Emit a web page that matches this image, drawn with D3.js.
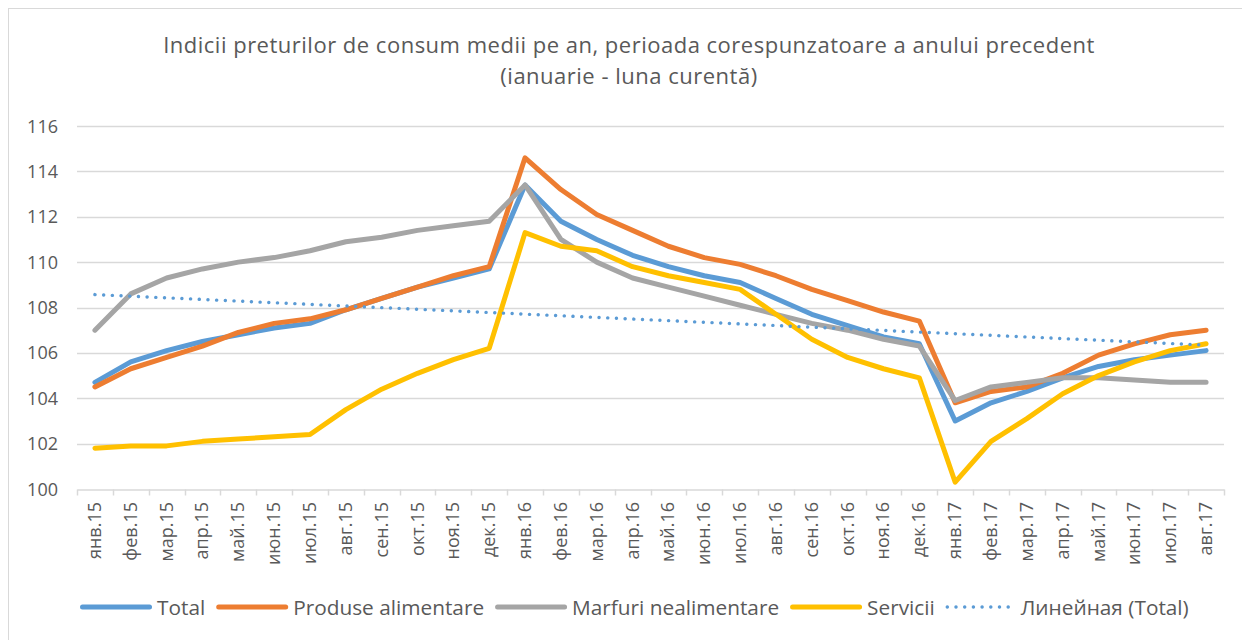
<!DOCTYPE html>
<html>
<head>
<meta charset="utf-8">
<script src="https://cdn.jsdelivr.net/npm/d3@7"></script>
<style>
  body { margin: 0; background: #fff; }
  svg { display: block; font-family: "Open Sans", "Liberation Sans", Arial, sans-serif; }
</style>
</head>
<body>
<div id="chart"></div>
<script>
var months = ["янв.15","фев.15","мар.15","апр.15","май.15","июн.15","июл.15","авг.15","сен.15","окт.15","ноя.15","дек.15",
              "янв.16","фев.16","мар.16","апр.16","май.16","июн.16","июл.16","авг.16","сен.16","окт.16","ноя.16","дек.16",
              "янв.17","фев.17","мар.17","апр.17","май.17","июн.17","июл.17","авг.17"];

var total = [104.7,105.6,106.1,106.5,106.8,107.1,107.3,107.9,108.4,108.9,109.3,109.7,
             113.4,111.8,111.0,110.3,109.8,109.4,109.1,108.4,107.7,107.2,106.7,106.4,
             103.0,103.8,104.3,104.9,105.4,105.7,105.9,106.1];
var alimentare = [104.5,105.3,105.8,106.3,106.9,107.3,107.5,107.9,108.4,108.9,109.4,109.8,
                  114.6,113.2,112.1,111.4,110.7,110.2,109.9,109.4,108.8,108.3,107.8,107.4,
                  103.8,104.3,104.5,105.1,105.9,106.4,106.8,107.0];
var nealimentare = [107.0,108.6,109.3,109.7,110.0,110.2,110.5,110.9,111.1,111.4,111.6,111.8,
                    113.4,111.0,110.0,109.3,108.9,108.5,108.1,107.7,107.3,107.0,106.6,106.3,
                    103.9,104.5,104.7,104.9,104.9,104.8,104.7,104.7];
var servicii = [101.8,101.9,101.9,102.1,102.2,102.3,102.4,103.5,104.4,105.1,105.7,106.2,
                111.3,110.7,110.5,109.8,109.4,109.1,108.8,107.7,106.6,105.8,105.3,104.9,
                100.3,102.1,103.1,104.2,105.0,105.6,106.1,106.4];
var yTicks = [100,102,104,106,108,110,112,114,116];

var titleLines = ["Indicii preturilor de consum medii pe an, perioada corespunzatoare a anului precedent",
                  "(ianuarie - luna curentă)"];

var series = [
  {name: "Total", values: total, color: "#5b9bd5"},
  {name: "Produse alimentare", values: alimentare, color: "#ed7d31"},
  {name: "Marfuri nealimentare", values: nealimentare, color: "#a5a5a5"},
  {name: "Servicii", values: servicii, color: "#ffc000"}
];

var width = 1242, height = 640;
var plot = {left: 77, right: 1224, top: 126, bottom: 489};
var textColor = "#595959", gridColor = "#d9d9d9";

var svg = d3.select("#chart").append("svg")
    .attr("width", width)
    .attr("height", height);

// outer chart frame
svg.append("rect")
    .attr("x", 8.5).attr("y", 8.5)
    .attr("width", 1250).attr("height", 660)
    .attr("fill", "#fff")
    .attr("stroke", gridColor);

// title
svg.selectAll("text.title")
    .data(titleLines)
    .enter().append("text")
    .attr("class", "title")
    .attr("x", 629)
    .attr("y", function(d, i) { return 53 + i * 31; })
    .attr("text-anchor", "middle")
    .style("font-size", "22px")
    .style("letter-spacing", "0.5px")
    .style("fill", textColor)
    .text(function(d) { return d; });

var x = d3.scaleBand()
    .domain(months)
    .range([plot.left, plot.right]);

var y = d3.scaleLinear()
    .domain([100, 116])
    .range([plot.bottom, plot.top]);

// gridlines
svg.append("g")
    .selectAll("line")
    .data(yTicks.slice(1))
    .enter().append("line")
    .attr("x1", plot.left).attr("x2", plot.right)
    .attr("y1", function(d) { return Math.round(y(d)) + 0.5; })
    .attr("y2", function(d) { return Math.round(y(d)) + 0.5; })
    .attr("stroke", gridColor)
    .attr("stroke-width", 1.5);

// y axis labels
svg.append("g")
    .selectAll("text")
    .data(yTicks)
    .enter().append("text")
    .attr("x", 58)
    .attr("y", function(d) { return y(d) + 6.5; })
    .attr("text-anchor", "end")
    .style("font-size", "18px")
    .style("fill", textColor)
    .text(function(d) { return d; });

// x axis
var xAxis = svg.append("g")
    .attr("transform", "translate(0," + (Math.round(plot.bottom) + 0.5) + ")")
    .call(d3.axisBottom(x).tickSize(0).tickPadding(0).tickFormat(""));
xAxis.select(".domain").attr("stroke", gridColor).attr("stroke-width", 1.5);

var bounds = months.map(function(m) { return x(m); }).concat([plot.right]);
xAxis.selectAll("line.tick-mark")
    .data(bounds)
    .enter().append("line")
    .attr("class", "tick-mark")
    .attr("x1", function(d) { return Math.round(d) + 0.5; })
    .attr("x2", function(d) { return Math.round(d) + 0.5; })
    .attr("y1", 0).attr("y2", 6)
    .attr("stroke", gridColor)
    .attr("stroke-width", 1.5);

svg.append("g")
    .selectAll("text")
    .data(months)
    .enter().append("text")
    .attr("transform", function(d) {
      return "translate(" + (x(d) + x.bandwidth() / 2 + 6) + "," + 502 + ") rotate(-90)";
    })
    .attr("text-anchor", "end")
    .style("font-size", "18px")
    .style("fill", textColor)
    .text(function(d) { return d; });

// series lines
var line = d3.line()
    .x(function(d, i) { return x(months[i]) + x.bandwidth() / 2; })
    .y(function(d) { return y(d); });

svg.append("g")
    .selectAll("path")
    .data(series)
    .enter().append("path")
    .attr("d", function(d) { return line(d.values); })
    .attr("fill", "none")
    .attr("stroke", function(d) { return d.color; })
    .attr("stroke-width", 5)
    .attr("stroke-linejoin", "round")
    .attr("stroke-linecap", "round");

// linear trend of Total (least squares)
var n = total.length,
    xm = d3.mean(d3.range(n)),
    ym = d3.mean(total),
    slope = d3.sum(total, function(v, i) { return (i - xm) * (v - ym); }) /
            d3.sum(d3.range(n), function(i) { return (i - xm) * (i - xm); }),
    trend = [ym - slope * xm, ym + slope * (n - 1 - xm)];

svg.append("line")
    .attr("x1", x(months[0]) + x.bandwidth() / 2)
    .attr("x2", x(months[n - 1]) + x.bandwidth() / 2)
    .attr("y1", y(trend[0]))
    .attr("y2", y(trend[1]))
    .attr("stroke", "#5b9bd5")
    .attr("stroke-width", 3.4)
    .attr("stroke-linecap", "round")
    .attr("stroke-dasharray", "0.1 8.6");

// legend
var legendItems = series.map(function(s) { return {name: s.name, color: s.color, dotted: false}; });
legendItems.push({name: "Линейная (Total)", color: "#5b9bd5", dotted: true});

var legend = svg.append("g").attr("class", "legend");
var lx = 80, ly = 607;
legendItems.forEach(function(d) {
  var g = legend.append("g").attr("transform", "translate(" + lx + "," + ly + ")");
  if (d.dotted) {
    g.append("line")
        .attr("x1", 1.5).attr("x2", 62.5)
        .attr("y1", 0).attr("y2", 0)
        .attr("stroke", d.color)
        .attr("stroke-width", 3.4)
        .attr("stroke-linecap", "round")
        .attr("stroke-dasharray", "0.1 8.6");
  } else {
    g.append("line")
        .attr("x1", 2.5).attr("x2", 69.5)
        .attr("y1", 0).attr("y2", 0)
        .attr("stroke", d.color)
        .attr("stroke-width", 5)
        .attr("stroke-linecap", "round");
  }
  var tx = d.dotted ? 75 : 77;
  var t = g.append("text")
      .attr("x", tx)
      .attr("y", 7.5)
      .style("font-size", "20.8px")
      .style("fill", textColor)
      .text(d.name);
  lx += tx + t.node().getComputedTextLength() + 11;
});
</script>
</body>
</html>
